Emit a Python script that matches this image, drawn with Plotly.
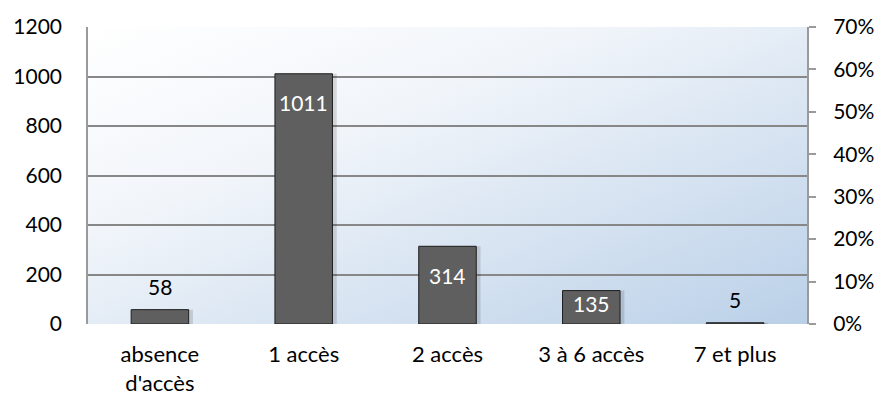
import base64
import plotly.graph_objects as go

# Number of people by count of accesses
categories = ["absence<br>d'accès", "1 accès", "2 accès", "3 à 6 accès", "7 et plus"]
counts = [58, 1011, 314, 135, 5]
count_ticks = [0, 200, 400, 600, 800, 1000, 1200]
share_ticks = [0, 0.1, 0.2, 0.3, 0.4, 0.5, 0.6, 0.7]

FONT = "Lato"
NUM_SIZE = 21
CAT_SIZE = 22
Y_MAX = 1200
PLOT_TOP, PLOT_BOTTOM = 27, 75
HEIGHT = 399
px_per_unit = (HEIGHT - PLOT_TOP - PLOT_BOTTOM) / Y_MAX

# Diagonal white-to-blue wash behind the plotting area
svg = (
    '<svg xmlns="http://www.w3.org/2000/svg" width="100" height="100" preserveAspectRatio="none">'
    '<defs><linearGradient id="g" x1="0" y1="0" x2="1" y2="1">'
    '<stop offset="0" stop-color="#ffffff"/>'
    '<stop offset="0.35" stop-color="#f1f5fa"/>'
    '<stop offset="1" stop-color="#bad0e8"/>'
    '</linearGradient></defs>'
    '<rect width="100" height="100" fill="url(#g)"/></svg>'
)
bg_uri = "data:image/svg+xml;base64," + base64.b64encode(svg.encode()).decode()

BAR_W = 0.4

fig = go.Figure()
# soft drop shadow to the right of each bar
fig.add_trace(go.Bar(
    x=categories, y=counts, width=BAR_W, offset=-BAR_W / 2 + 0.03,
    marker=dict(color="rgba(0,0,0,0.13)", line=dict(width=0)),
    hoverinfo="skip", showlegend=False,
))
fig.add_trace(go.Bar(
    x=categories, y=counts, width=BAR_W, offset=-BAR_W / 2,
    marker=dict(color="#5f5f5f", line=dict(color="#1e1e1e", width=1)),
    hoverinfo="skip", showlegend=False,
))
# empty trace so the right-hand percentage axis is drawn
fig.add_trace(go.Scatter(
    x=categories, y=[None] * len(categories), yaxis="y2",
    mode="markers", hoverinfo="skip", showlegend=False,
))

# value labels: inside near the top for tall bars, above short ones
annotations = []
for cat, v in zip(categories, counts):
    bar_px = v * px_per_unit
    if v >= 100:
        annotations.append(dict(
            x=cat, y=v, xref="x", yref="y", text=str(v), showarrow=False,
            yanchor="middle", yshift=-min(29, bar_px * 0.4),
            font=dict(family=FONT, size=NUM_SIZE, color="#ffffff"),
        ))
    else:
        annotations.append(dict(
            x=cat, y=v, xref="x", yref="y", text=str(v), showarrow=False,
            yanchor="middle", yshift=23,
            font=dict(family=FONT, size=NUM_SIZE, color="#000000"),
        ))

fig.update_layout(
    width=879,
    height=HEIGHT,
    margin=dict(l=88, r=72, t=PLOT_TOP, b=PLOT_BOTTOM),
    paper_bgcolor="#ffffff",
    plot_bgcolor="rgba(0,0,0,0)",
    font=dict(family=FONT, size=NUM_SIZE, color="#000000"),
    barmode="overlay",
    annotations=annotations,
    images=[dict(
        source=bg_uri, xref="paper", yref="paper", x=0, y=1,
        sizex=1, sizey=1, sizing="stretch", layer="below",
    )],
    xaxis=dict(
        showgrid=False,
        showline=False,
        ticks="",
        automargin=False,
        ticklabelstandoff=15,
        tickfont=dict(family=FONT, size=CAT_SIZE),
    ),
    yaxis=dict(
        range=[0, Y_MAX],
        tickvals=count_ticks,
        showgrid=True,
        gridcolor="#878787",
        gridwidth=1.5,
        zeroline=False,
        showline=True,
        linecolor="#9a9a9a",
        linewidth=1.5,
        ticks="",
        automargin=False,
        ticklabelstandoff=20,
        tickfont=dict(family=FONT, size=NUM_SIZE),
    ),
    yaxis2=dict(
        overlaying="y",
        side="right",
        range=[0, 0.7],
        tickvals=share_ticks,
        tickformat=".0%",
        showgrid=False,
        zeroline=False,
        showline=True,
        linecolor="#9a9a9a",
        linewidth=2,
        ticks="outside",
        ticklen=7,
        tickcolor="#9a9a9a",
        tickwidth=1.5,
        automargin=False,
        ticklabelstandoff=13,
        tickfont=dict(family=FONT, size=NUM_SIZE),
    ),
)

fig.write_html("out.html")
